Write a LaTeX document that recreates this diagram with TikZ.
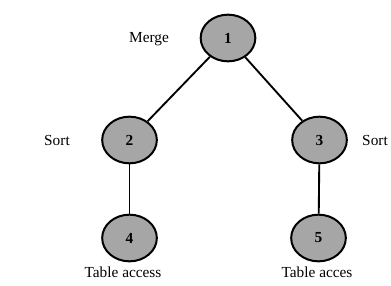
\documentclass[tikz,border=0pt]{standalone}
\usepackage{fontspec}
\setmainfont{Liberation Serif}
\usetikzlibrary{shapes.geometric}

\begin{document}
\begin{tikzpicture}[x=0.75pt,y=-0.75pt,
    opnode/.style={ellipse, draw, line width=1.5pt, fill=gray!70,
      minimum width=41pt, minimum height=35pt, inner sep=0pt,
      font=\fontsize{11.5}{13}\selectfont\bfseries},
    oplabel/.style={font=\fontsize{11.5}{13}\selectfont},
    edge/.style={line width=1.4pt}]
  \useasboundingbox (0,0) rectangle (391,285);
  % plan nodes
  \node[opnode] (n1) at (228,38) {1};
  \node[opnode] (n2) at (129.5,140) {2};
  \node[opnode] (n3) at (319.5,140) {3};
  \node[opnode] (n4) at (129.5,238) {4};
  \node[opnode] (n5) at (318.5,238) {5};
  % operation names
  \node[oplabel] (l1) at (149,39) {Merge};
  \node[oplabel] (l2) at (57,140) {Sort};
  \node[oplabel] (l3) at (375,140) {Sort};
  \node[oplabel] (l4) at (123,272) {Table access};
  \node[oplabel] (l5) at (317,272) {Table acces};
  % tree edges
  \draw[edge] (n1) -- (n2);
  \draw[edge] (n1) -- (n3);
  \draw[edge] (n2) -- (n4);
  \draw[edge] (n3) -- (n5);
\end{tikzpicture}
\end{document}
